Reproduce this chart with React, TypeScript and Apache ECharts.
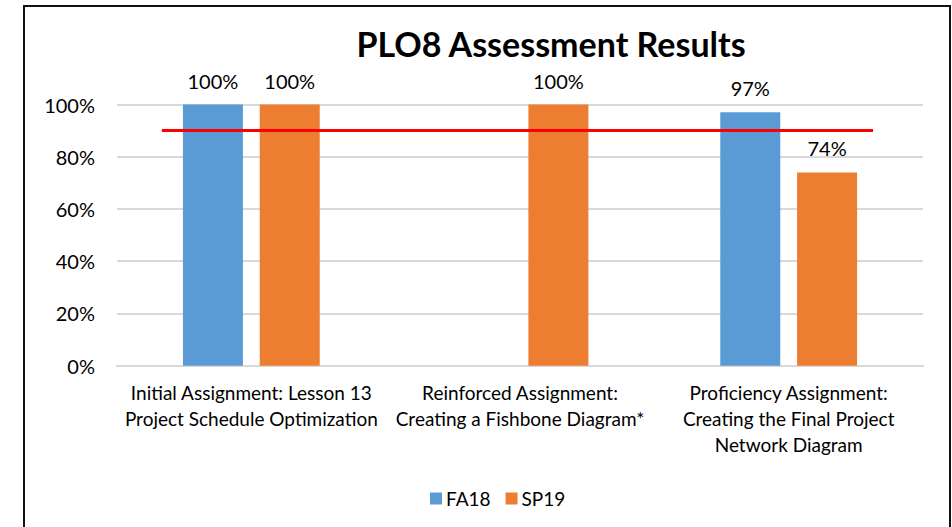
import React, { useEffect, useRef } from "react";
import * as echarts from "echarts";

const categories = [
  "Initial Assignment: Lesson 13\nProject Schedule Optimization",
  "Reinforced Assignment:\nCreating a Fishbone Diagram*",
  "Proficiency Assignment:\nCreating the Final Project\nNetwork Diagram",
];
const fa18 = [100, null, 97];
const sp19 = [100, 100, 74];
const goalValue = 90;
const yTicks = [0, 20, 40, 60, 80, 100];

const FONT = "Lato, 'Open Sans', sans-serif";

export default function App() {
  const ref = useRef<HTMLDivElement>(null);
  useEffect(() => {
    if (!ref.current) return;
    const chart = echarts.init(ref.current, undefined, { renderer: "svg" });
    const labelCfg = {
      show: true,
      position: "top" as const,
      distance: 14,
      formatter: (p: any) => `${p.value}%`,
      color: "#000",
      fontSize: 20,
      fontFamily: FONT,
    };
    chart.setOption({
      animation: false,
      backgroundColor: "#fff",
      textStyle: { fontFamily: FONT },
      title: {
        text: "PLO8 Assessment Results",
        left: 546,
        top: 21,
        textAlign: "center",
        textStyle: { fontSize: 34, fontWeight: "bold", color: "#000", fontFamily: FONT },
      },
      graphic: [
        {
          type: "rect",
          shape: { x: 24, y: 6, width: 926, height: 560 },
          style: { fill: "none", stroke: "#111", lineWidth: 2 },
          silent: true,
        },
      ],
      legend: {
        data: ["FA18", "SP19"],
        left: 425,
        top: 484,
        itemWidth: 12,
        itemHeight: 12,
        itemGap: 15,
        icon: "rect",
        textStyle: { fontSize: 19, color: "#000", fontFamily: FONT, padding: [0, 0, 0, -1] },
      },
      grid: { left: 117, right: 29, top: 104.5, bottom: 161.3, containLabel: false },
      xAxis: [
        {
          type: "category",
          data: categories,
          axisLine: { lineStyle: { color: "#d9d9d9", width: 2 } },
          axisTick: { show: false },
          axisLabel: {
            color: "#000",
            fontSize: 19,
            fontFamily: FONT,
            lineHeight: 26,
            margin: 14,
            interval: 0,
          },
        },
        {
          type: "value",
          min: -0.5,
          max: 2.5,
          show: false,
        },
      ],
      yAxis: {
        type: "value",
        min: 0,
        max: 100,
        interval: 20,
        axisLine: { show: false },
        axisTick: { show: false },
        splitLine: { lineStyle: { color: "#d9d9d9", width: 2 } },
        axisLabel: {
          formatter: (v: number) => (yTicks.includes(v) ? `${v}%` : ""),
          color: "#000",
          fontSize: 20,
          fontFamily: FONT,
          margin: 22,
        },
      },
      series: [
        {
          name: "FA18",
          type: "bar",
          data: fa18,
          barWidth: 60,
          barGap: "28%",
          itemStyle: { color: "#5B9BD5" },
          label: labelCfg,
        },
        {
          name: "SP19",
          type: "bar",
          data: sp19,
          barWidth: 60,
          itemStyle: { color: "#ED7D31" },
          label: labelCfg,
        },
        {
          name: "Goal",
          type: "line",
          xAxisIndex: 1,
          data: [
            [-0.333, goalValue],
            [2.314, goalValue],
          ],
          symbol: "none",
          lineStyle: { color: "#FF0000", width: 3 },
          z: 5,
        },
      ],
    });
    return () => chart.dispose();
  }, []);
  return (
    <div
      ref={ref}
      style={{ position: "fixed", left: 0, top: 0, width: 952, height: 527 }}
    />
  );
}
